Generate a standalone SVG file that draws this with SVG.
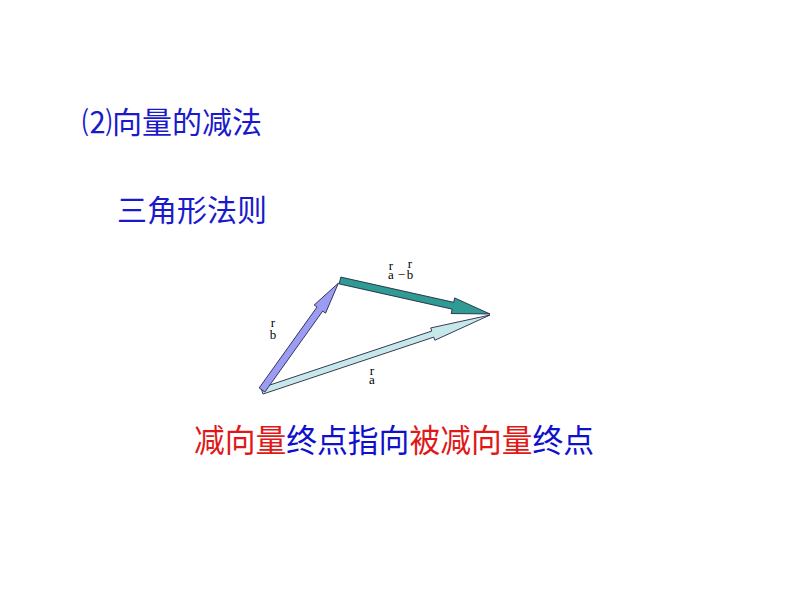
<svg xmlns="http://www.w3.org/2000/svg" width="794" height="596" viewBox="0 0 794 596">
<style>
.cjk{font-family:"Noto Sans CJK SC","Noto Sans",sans-serif;}
.t{font-size:30px;fill:#1a1acc;}
.cap{font-size:32px;}
.r{fill:#e01818;}
.b{fill:#1010cc;}
.lbl{font-family:"Liberation Serif","Times New Roman",serif;font-size:13px;fill:#000;}
.arr{stroke:#222244;stroke-width:0.8;stroke-linejoin:miter;}
</style>
<rect width="794" height="596" fill="#ffffff"/>
<g id="title"><text class="cjk t" x="82" y="133">⑵向量的减法</text></g>
<g id="subtitle"><text class="cjk t" x="117" y="221">三角形法则</text></g>
<g id="connectors">
<g id="vec-a" transform="translate(262,391) rotate(-18.43)"><polygon class="arr" fill="#c6e8e8" points="0,-3.2 180,-3.2 180,-6.5 240.3,0 180,6.5 180,3.2 0,3.2"/></g>
<g id="vec-amb" transform="translate(340,280.5) rotate(12.59)"><polygon class="arr" fill="#2f9b93" points="0,-3.5 115.7,-3.5 115.7,-8 153.7,0 115.7,8 115.7,3.5 0,3.5"/></g>
<g id="vec-b" transform="translate(262,390) rotate(-54.44)"><polygon class="arr" fill="#9c9cf4" points="0,-3.5 99.5,-3.5 99.5,-7 131.5,0 99.5,7 99.5,3.5 0,3.5"/></g>
</g>
<g id="labels">
<text class="lbl" text-anchor="middle"><tspan x="273" y="327">r</tspan><tspan x="273" y="339">b</tspan></text>
<text class="lbl" text-anchor="middle"><tspan x="372" y="375">r</tspan><tspan x="372" y="384">a</tspan></text>
<text class="lbl" text-anchor="middle"><tspan x="391" y="270">r</tspan><tspan x="410" y="268">r</tspan><tspan x="391" y="279">a</tspan><tspan x="401.5" y="279">−</tspan><tspan x="410" y="279">b</tspan></text>
</g>
<g id="caption"><text class="cjk cap" x="194" y="452" textLength="400" lengthAdjust="spacingAndGlyphs"><tspan class="r">减向量</tspan><tspan class="b">终点指向</tspan><tspan class="r">被减向量</tspan><tspan class="b">终点</tspan></text></g>
</svg>
